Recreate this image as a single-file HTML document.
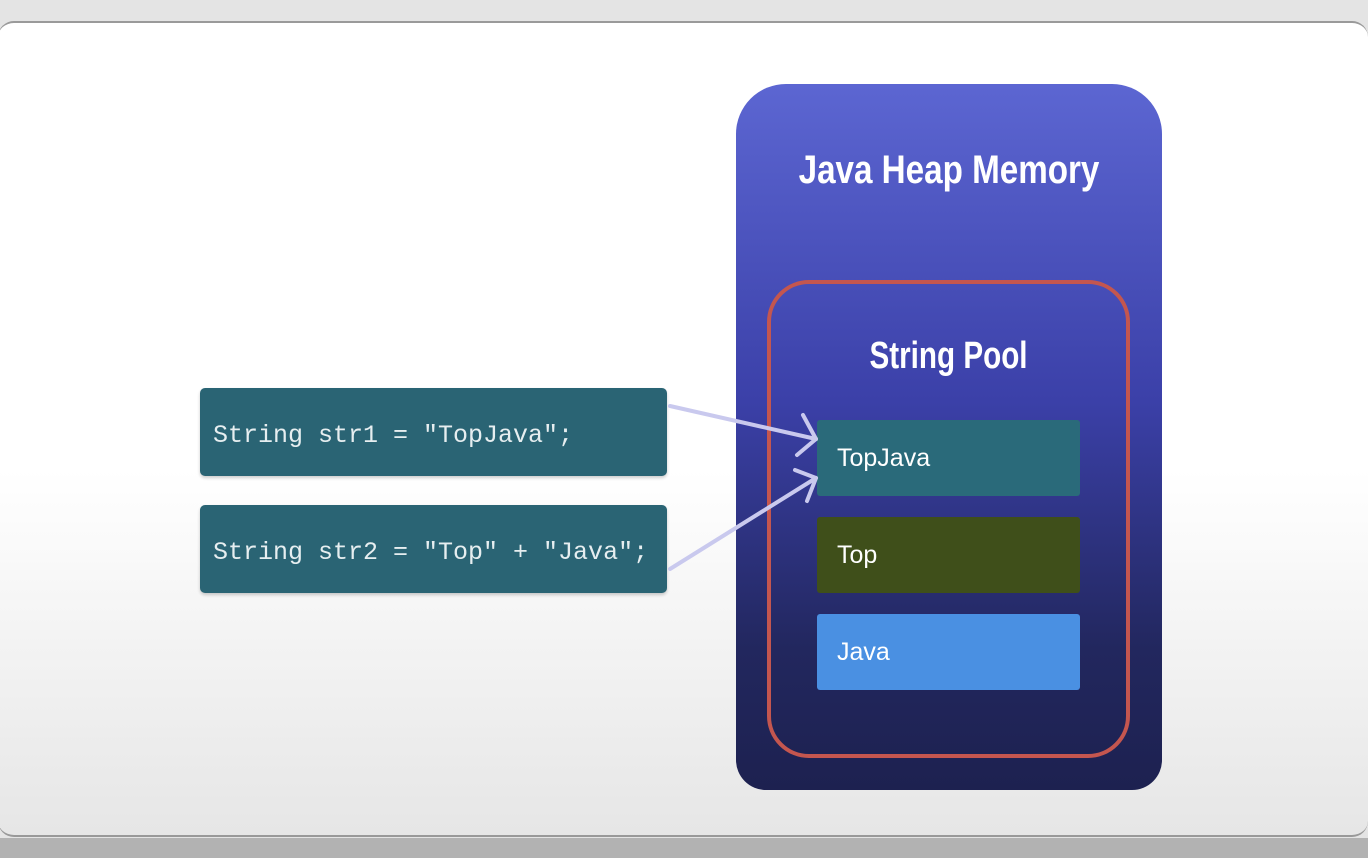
<!DOCTYPE html>
<html><head><meta charset="utf-8"><style>
html,body{margin:0;padding:0;width:1368px;height:858px;overflow:hidden;background:#e4e4e4;font-family:"Liberation Sans",sans-serif;}
.bot{position:absolute;left:0;top:838px;width:1368px;height:20px;background:#b2b2b2;}
.card{position:absolute;left:-2px;top:21px;width:1370px;height:816px;border-radius:16px;background:linear-gradient(#ffffff 0%,#ffffff 55%,#e6e6e6 100%);border-top:2px solid #9a9a9a;border-bottom:2px solid #999;box-sizing:border-box;}
.heap{position:absolute;left:736px;top:84px;width:426px;height:706px;border-radius:50px 50px 30px 30px;background:linear-gradient(#5c66d2 0%,#3b40a8 45%,#22275e 80%,#1d2150 100%);}
.pool{position:absolute;left:767px;top:280px;width:363px;height:478px;border:4px solid #c4564f;border-radius:42px;box-sizing:border-box;}
.t{position:absolute;color:#fff;font-weight:bold;text-align:center;}
.item{position:absolute;left:817px;width:263px;height:76px;border-radius:3px;color:#fff;font-size:25px;line-height:76px;padding-left:20px;box-sizing:border-box;}
.code{position:absolute;left:200px;width:467px;height:88px;background:#2a6474;border-radius:5px;color:#e6eef0;font-family:"Liberation Mono",monospace;font-size:25px;line-height:96px;padding-left:13px;box-sizing:border-box;white-space:pre;box-shadow:0 2px 3px rgba(0,0,0,0.2);}
</style></head><body>
<div class="bot"></div>
<div class="card"></div>
<div class="heap"></div>
<div class="t" style="left:736px;width:426px;top:148px;font-size:40px;transform:scaleX(0.83);">Java Heap Memory</div>
<div class="pool"></div>
<div class="t" style="left:767px;width:363px;top:335px;font-size:38px;transform:scaleX(0.78);">String Pool</div>
<div class="item" style="top:420px;background:#2a6a7a;">TopJava</div>
<div class="item" style="top:517px;background:#3f4f1a;">Top</div>
<div class="item" style="top:614px;background:#4a90e2;">Java</div>
<div class="code" style="top:388px;">String str1 = "TopJava";</div>
<div class="code" style="top:505px;">String str2 = "Top" + "Java";</div>
<svg style="position:absolute;left:0;top:0" width="1368" height="858">
<g stroke="#c9c9ee" stroke-width="4" fill="none" stroke-linecap="round" stroke-linejoin="round">
<path d="M670 406 L816 439"/><path d="M803 415 L816 439 L797 455"/>
<path d="M670 569 L816 478"/><path d="M795 470 L816 478 L807 501"/>
</g></svg>
</body></html>
